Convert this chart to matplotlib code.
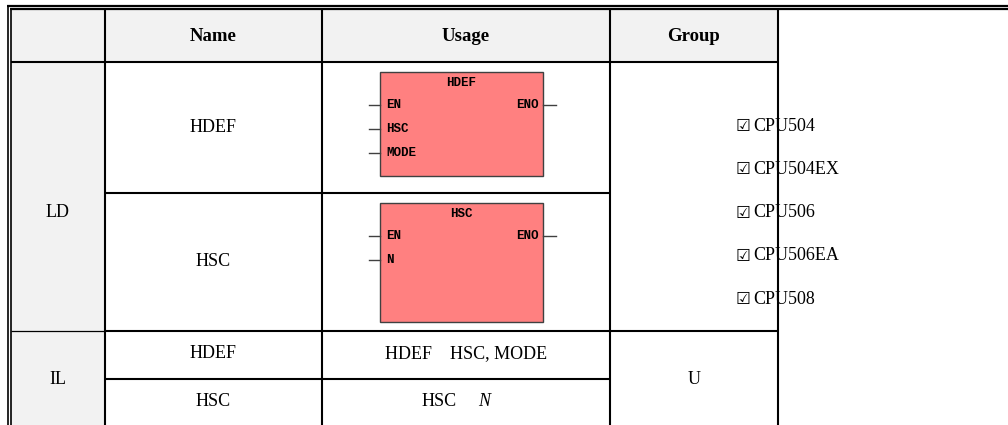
import matplotlib
matplotlib.use("Agg")
import matplotlib.pyplot as plt
from matplotlib.patches import Rectangle

# ---------------- data ----------------
header_labels = ["", "Name", "Usage", "Group"]
languages = ["LD", "IL"]
ld_names = ["HDEF", "HSC"]
il_names = ["HDEF", "HSC"]
il_usage_ops = ["HDEF", "HSC"]
il_usage_args = ["HSC, MODE", "N"]
group_value = "U"
cpu_models = ["CPU504", "CPU504EX", "CPU506", "CPU506EA", "CPU508"]
block_titles = ["HDEF", "HSC"]
block_inputs = [["EN", "HSC", "MODE"], ["EN", "N"]]
block_outputs = [["ENO"], ["ENO"]]

# ---------------- layout (pixels) ----------------
W, H = 1008, 425
col_x = [10.7, 105, 322, 610, 778]          # column boundaries
row_header = (9, 62)
row_ld = [(62, 192.5), (192.5, 331)]
row_il = [(331, 379), (379, 427)]

SERIF = "Liberation Serif"
FS = 13
GRAY = "#F2F2F2"
LW = 1.5

fig = plt.figure(figsize=(W / 100, H / 100), dpi=100)
ax = fig.add_axes([0, 0, 1, 1])
ax.set_xlim(0, W)
ax.set_ylim(H, 0)
ax.axis("off")

# backgrounds
ax.add_patch(Rectangle((col_x[0], row_header[0]), col_x[4] - col_x[0],
                       row_header[1] - row_header[0], color=GRAY, lw=0, zorder=0))
ax.add_patch(Rectangle((col_x[0], row_header[1]), col_x[1] - col_x[0],
                       H - row_header[1], color=GRAY, lw=0, zorder=0))

def hline(y, x0, x1, lw=LW):
    ax.plot([x0, x1], [y, y], color="black", lw=lw, solid_capstyle="butt", zorder=3)

def vline(x, y0, y1, lw=LW):
    ax.plot([x, x], [y0, y1], color="black", lw=lw, solid_capstyle="butt", zorder=3)

# outer double border
hline(5.8, 6.8, W, lw=1.6)
hline(9.0, 10.0, W, lw=1.6)
vline(7.5, 5.0, H, lw=1.2)
vline(10.7, 8.2, H, lw=1.2)

# column lines
for x in col_x[1:]:
    vline(x, 9, H)

# row lines
hline(row_header[1], col_x[0], col_x[4])
hline(row_ld[0][1], col_x[1], col_x[3])
hline(row_ld[1][1], col_x[0], col_x[1], lw=0.9)
hline(row_ld[1][1], col_x[1], col_x[4])
hline(row_il[0][1], col_x[1], col_x[3])

# header text
for i, lab in enumerate(header_labels):
    if lab:
        ax.text((col_x[i] + col_x[i + 1]) / 2, 36, lab, family=SERIF,
                fontsize=FS + 0.5, fontweight="bold", ha="center", va="center")

# language column
ax.text((col_x[0] + col_x[1]) / 2, 212, languages[0], family=SERIF, fontsize=FS,
        ha="center", va="center")
ax.text((col_x[0] + col_x[1]) / 2, 380, languages[1], family=SERIF, fontsize=FS,
        ha="center", va="center")

# LD names
for (y0, y1), nm in zip(row_ld, ld_names):
    ax.text((col_x[1] + col_x[2]) / 2, (y0 + y1) / 2, nm, family=SERIF,
            fontsize=FS, ha="center", va="center")

# IL rows
xc = (col_x[2] + col_x[3]) / 2
for (y0, y1), nm, op, arg in zip(row_il, il_names, il_usage_ops, il_usage_args):
    yc = (y0 + y1) / 2 - 1
    ax.text((col_x[1] + col_x[2]) / 2, yc, nm, family=SERIF, fontsize=FS,
            ha="center", va="center")
    if arg == "N":
        ax.text(xc - 9, yc, op, family=SERIF, fontsize=FS, ha="right", va="center")
        ax.text(xc + 12, yc, arg, family=SERIF, fontsize=FS, ha="left",
                va="center", style="italic")
    else:
        ax.text(xc, yc, op + "    " + arg, family=SERIF, fontsize=FS,
                ha="center", va="center")

ax.text((col_x[3] + col_x[4]) / 2, 379, group_value, family=SERIF, fontsize=FS,
        ha="center", va="center")

# CPU list
cpu_y0, cpu_dy = 126, 43.3
for k, cpu in enumerate(cpu_models):
    y = cpu_y0 + k * cpu_dy
    ax.text(736, y, "\u2611", family="DejaVu Sans", fontweight="bold",
            fontsize=FS - 1, ha="left", va="center")
    ax.text(753, y, cpu, family=SERIF, fontsize=FS, ha="left", va="center")

# function blocks
BX0, BX1 = 380, 543
block_tops = [72, 203]
block_bots = [176, 322]
MONO = "Liberation Mono"
BFS = 9
for top, bot, title, ins, outs in zip(block_tops, block_bots, block_titles,
                                      block_inputs, block_outputs):
    ax.add_patch(Rectangle((BX0, top), BX1 - BX0, bot - top, facecolor="#FF8080",
                           edgecolor="#404040", lw=1.0, zorder=2))
    ax.text((BX0 + BX1) / 2, top + 11, title, family=MONO, fontweight="bold",
            fontsize=BFS, ha="center", va="center", zorder=4)
    for j, pin in enumerate(ins):
        y = top + 33 + j * 24
        ax.plot([369, BX0], [y, y], color="#404040", lw=1.0, zorder=3)
        ax.text(BX0 + 6, y, pin, family=MONO, fontweight="bold", fontsize=BFS,
                ha="left", va="center", zorder=4)
    for j, pin in enumerate(outs):
        y = top + 33 + j * 24
        ax.plot([BX1, 556], [y, y], color="#404040", lw=1.0, zorder=3)
        ax.text(BX1 - 4, y, pin, family=MONO, fontweight="bold", fontsize=BFS,
                ha="right", va="center", zorder=4)

fig.savefig("out.png", dpi=100)
